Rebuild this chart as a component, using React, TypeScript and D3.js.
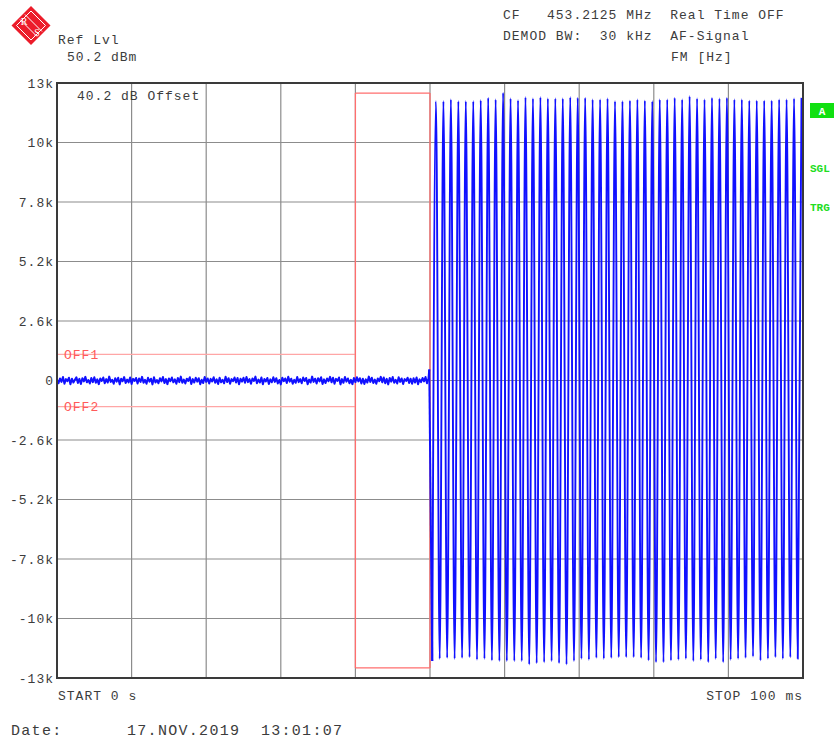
import React from "react";
import * as d3 from "d3";

// ---- data ----
const timeDomainMs = [0, 100];
const freqDomainHz = [-13000, 13000];
const yTickValues = [13000, 10400, 7800, 5200, 2600, 0, -2600, -5200, -7800, -10400, -13000];
const yTickLabels = ["13k", "10k", "7.8k", "5.2k", "2.6k", "0", "-2.6k", "-5.2k", "-7.8k", "-10k", "-13k"];
const xTickValues = [0, 10, 20, 30, 40, 50, 60, 70, 80, 90, 100];

// noise before the tone (Hz), one sample every 0.2 ms from 0 ms
const noiseStepMs = 0.2;
const noiseValues = [
  40, -120, 90, -60, 150, -140, 60, -30, 120, -160, 80, -90, 30, 140, -110, 70, -150, 100, -40, 160,
  -80, 20, -130, 110, -70, 140, -100, 50, -160, 90, -20, 130, -120, 60, -90, 170, -60, 30, -140, 100,
  -50, 120, -170, 80, -30, 150, -110, 40, -80, 130, -150, 70, -20, 110, -130, 90, -60, 160, -100, 30,
  -140, 120, -50, 80, -170, 140, -90, 20, -120, 100, -40, 150, -110, 60, -160, 90, -30, 130, -80, 50,
  -140, 110, -70, 170, -100, 40, -130, 80, -20, 140, -150, 60, -90, 120, -50, 100, -160, 30, -110, 150,
  -60, 90, -130, 70, -40, 140, -100, 50, -150, 120, -80, 30, -120, 160, -70, 100, -140, 60, -30, 130,
  -90, 110, -160, 80, -50, 120, -100, 150, -70, 60, -140, 90, -20, 170, -120, 40, -90, 130, -160, 70,
  -40, 110, -150, 50, -80, 140, -60, 100, -130, 20, -170, 120, -30, 90, -110, 160, -50, 80, -140, 30,
  -100, 150, -70, 60, -120, 130, -20, 110, -160, 40, -90, 170, -60, 80, -130, 100, -40, 140, -150, 50,
  -110, 90, -30, 160, -80, 120, -140, 70, -20, 130, -170, 60, -100, 150, -50, 90, -120, 30, -160, 110,
  -70, 140, -40, 100, -130, 80, -150, 50, -90, 170, -60, 120, -110, 40, -140, 90, -30, 160, -80, 130,
  -120, 70, -170, 110, -50, 150, -100, 30, -130, 140, -60, 90, -150, 60, -20, 120, -110, 80, -140, 100,
  -90, 130, -160, 50, -70, 110, -40, 150, -120, 80,
];
const spikeTimeMs = 49.9;
const spikeValue = 480;

// tone: 1 kHz, first trough at 50.3 ms, first peak at 50.8 ms
const firstTroughMs = 50.3;
const firstPeakMs = 50.8;
const cyclePeriodMs = 1.0;
const peakHighs = [
  12200, 12200, 12280, 12200, 12200, 12200, 12250, 12350, 12280, 12570, 12320, 12250, 12380, 12320, 12380, 12320, 12320, 12320, 12380, 12350, 12350, 12280, 12280, 12320,
  12200, 12200, 12230, 12280, 12230, 12200, 12280, 12280, 12350, 12280, 12420, 12320, 12280, 12350, 12320, 12350, 12280, 12280, 12230, 12230, 12230, 12230, 12280, 12280, 12320, 12350,
];
const troughLows = [
  -12260, -12160, -12120, -12160, -12120, -12090, -12200, -12160, -12230, -12260, -12260, -12260, -12260, -12410, -12350, -12310, -12260, -12350, -12410, -12260, -12160, -12200, -12120, -12160,
  -12120, -12090, -12090, -12090, -12120, -12230, -12310, -12310, -12230, -12200, -12160, -12260, -12200, -12310, -12160, -12310, -12200, -12160, -12120, -12060, -12230, -12160, -12090, -12160, -12090, -12160,
];

// limit lines
const offLevels = [1140, -1140];
const offLabels = ["OFF1", "OFF2"];
const offRangeMs = [0, 40];
const limitBoxMs = [40, 50];
const limitBoxHz = [12560, -12560];

// ---- layout ----
const W = 840;
const H = 742;
const plot = { left: 57, right: 803, top: 83, bottom: 678 };
const FONT = "'Liberation Mono', 'Courier New', monospace";
const TEXT = "#3c3c3c";

type Pt = { t: number; v: number };

export default function App() {
  const x = d3.scaleLinear().domain(timeDomainMs).range([plot.left, plot.right]);
  const y = d3.scaleLinear().domain(freqDomainHz).range([plot.bottom, plot.top]);

  const noisePts: Pt[] = noiseValues.map((v, i) => ({ t: i * noiseStepMs, v }));
  noisePts.push({ t: spikeTimeMs, v: spikeValue });

  const tonePts: Pt[] = [];
  troughLows.forEach((v, i) => {
    tonePts.push({ t: firstTroughMs + i * cyclePeriodMs, v });
    tonePts.push({ t: firstPeakMs + i * cyclePeriodMs, v: peakHighs[i] });
  });

  const noiseLine = d3
    .line<Pt>()
    .x((d) => x(d.t))
    .y((d) => y(d.v))
    .curve(d3.curveLinear);
  const toneLine = d3
    .line<Pt>()
    .x((d) => x(d.t))
    .y((d) => y(d.v))
    .curve(d3.curveMonotoneX);

  const joinPath = `M${x(spikeTimeMs)},${y(spikeValue)}L${x(firstTroughMs)},${y(troughLows[0])}`;

  const txt = (s: string, px: number, py: number, extra: any = {}) => (
    <text
      x={px}
      y={py}
      fontFamily={FONT}
      fontSize={13}
      letterSpacing={1}
      fill={TEXT}
      {...extra}
    >
      {s}
    </text>
  );

  // logo geometry
  const lc = { x: 31, y: 25.5 };
  const lr = 19.5;

  return (
    <svg
      width={W}
      height={H}
      style={{ position: "absolute", left: 0, top: 0, background: "#fff" }}
    >
      <rect x={0} y={0} width={W} height={H} fill="#fff" />
      <defs>
        <clipPath id="plotClip">
          <rect x={plot.left} y={plot.top} width={plot.right - plot.left} height={plot.bottom - plot.top} />
        </clipPath>
      </defs>

      {/* logo */}
      <g>
        <polygon
          points={`${lc.x},${lc.y - lr} ${lc.x + lr},${lc.y} ${lc.x},${lc.y + lr} ${lc.x - lr},${lc.y}`}
          fill="#ec1c2a"
        />
        <polygon
          points={`${lc.x},${lc.y - lr + 5} ${lc.x + lr - 5},${lc.y} ${lc.x},${lc.y + lr - 5} ${lc.x - lr + 5},${lc.y}`}
          fill="none"
          stroke="#fff"
          strokeWidth={1}
        />
        <line x1={lc.x - 11} y1={lc.y - 6} x2={lc.x + 6} y2={lc.y + 11} stroke="#fff" strokeWidth={1} />
        <line x1={lc.x - 6} y1={lc.y - 11} x2={lc.x + 11} y2={lc.y + 6} stroke="#fff" strokeWidth={1} />
        <text x={lc.x - 7} y={lc.y - 1} fontFamily="'Liberation Serif', serif" fontSize={10} fill="#fff" textAnchor="middle">R</text>
        <text x={lc.x + 6} y={lc.y + 10} fontFamily="'Liberation Serif', serif" fontSize={10} fill="#fff" textAnchor="middle">S</text>
      </g>

      {/* header */}
      {txt("Ref Lvl", 58, 44)}
      {txt("50.2 dBm", 67, 61)}
      <text x={503} y={19} fontFamily={FONT} fontSize={13} letterSpacing={1} fill={TEXT} xmlSpace="preserve" style={{ whiteSpace: "pre" }}>
        {"CF   453.2125 MHz  Real Time OFF"}
      </text>
      <text x={503} y={40} fontFamily={FONT} fontSize={13} letterSpacing={1} fill={TEXT} xmlSpace="preserve" style={{ whiteSpace: "pre" }}>
        {"DEMOD BW:  30 kHz  AF-Signal"}
      </text>
      {txt("FM [Hz]", 671, 61)}

      {/* grid */}
      <g stroke="#8c8c8c" strokeWidth={1.2}>
        {xTickValues.slice(1, -1).map((t) => (
          <line key={"gx" + t} x1={x(t)} x2={x(t)} y1={plot.top} y2={plot.bottom} />
        ))}
        {yTickValues.slice(1, -1).map((v) => (
          <line key={"gy" + v} x1={plot.left} x2={plot.right} y1={y(v)} y2={y(v)} />
        ))}
      </g>

      {/* y tick labels */}
      {yTickValues.map((v, i) =>
        txt(yTickLabels[i], 54, y(v) + 4.5, { textAnchor: "end", key: "yl" + i })
      )}

      {/* limit / offset lines */}
      <g clipPath="url(#plotClip)">
        {offLevels.map((lv, i) => (
          <line key={"off" + i} x1={x(offRangeMs[0])} x2={x(offRangeMs[1])} y1={y(lv)} y2={y(lv)} stroke="#ffa6a6" strokeWidth={1.3} />
        ))}
        {limitBoxMs.map((t, i) => (
          <line key={"lv" + i} x1={x(t)} x2={x(t)} y1={y(limitBoxHz[0])} y2={y(limitBoxHz[1])} stroke="#ff6e6e" strokeWidth={1.3} />
        ))}
        {limitBoxHz.map((v, i) => (
          <line key={"lh" + i} x1={x(limitBoxMs[0])} x2={x(limitBoxMs[1])} y1={y(v)} y2={y(v)} stroke="#ff6e6e" strokeWidth={1.3} />
        ))}
      </g>
      {offLevels.map((lv, i) => (
        <text key={"offl" + i} x={64} y={y(lv) + 4.5} fontFamily={FONT} fontSize={13} letterSpacing={1} fill="#ff5a5a">
          {offLabels[i]}
        </text>
      ))}

      {/* trace */}
      <g clipPath="url(#plotClip)" fill="none" stroke="#1010ff" strokeLinejoin="round">
        <path d={noiseLine(noisePts) || ""} strokeWidth={2} />
        <path d={joinPath} strokeWidth={2} />
        <path d={toneLine(tonePts) || ""} strokeWidth={1.9} />
      </g>

      {/* frame */}
      <rect
        x={plot.left}
        y={plot.top}
        width={plot.right - plot.left}
        height={plot.bottom - plot.top}
        fill="none"
        stroke="#3a3a3a"
        strokeWidth={2}
      />

      {txt("40.2 dB Offset", 77, 100)}

      {/* right side indicators */}
      <rect x={810} y={103} width={24} height={15} fill="#11e011" />
      <text x={822} y={115} fontFamily={FONT} fontSize={11} fill="#fff" textAnchor="middle" fontWeight="bold">A</text>
      <text x={810} y={172} fontFamily={FONT} fontSize={11} fill="#22dd22" fontWeight="bold">SGL</text>
      <text x={810} y={211} fontFamily={FONT} fontSize={11} fill="#22dd22" fontWeight="bold">TRG</text>

      {/* footer */}
      {txt("START 0 s", 58, 700)}
      {txt("STOP 100 ms", 803, 700, { textAnchor: "end" })}
      <text x={11} y={735} fontFamily={FONT} fontSize={15} letterSpacing={1.3} fill={TEXT}>Date:</text>
      <text x={127} y={735} fontFamily={FONT} fontSize={15} letterSpacing={1.3} fill={TEXT} xmlSpace="preserve" style={{ whiteSpace: "pre" }}>
        {"17.NOV.2019  13:01:07"}
      </text>
    </svg>
  );
}
